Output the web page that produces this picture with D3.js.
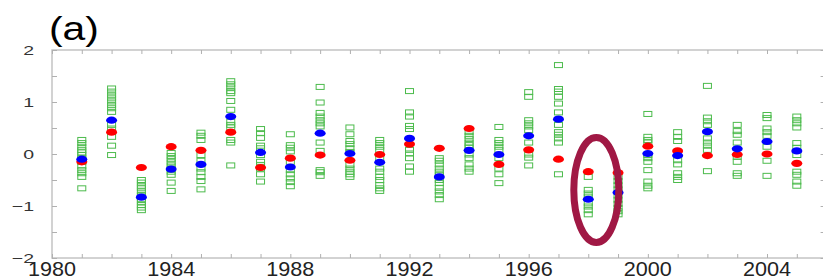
<!DOCTYPE html>
<html>
<head>
<meta charset="utf-8">
<script src="https://cdn.jsdelivr.net/npm/d3@7"></script>
<style>
  body { margin: 0; background: #fff; }
  svg { display: block; }
  text { font-family: "Liberation Sans", Arial, sans-serif; }
</style>
</head>
<body>
<div id="chart"></div>
<script>
// one column per year: ensemble members (green squares), red and blue estimates
const years = [1981, 1982, 1983, 1984, 1985, 1986, 1987, 1988, 1989, 1990, 1991, 1992, 1993,
    1994, 1995, 1996, 1997, 1998, 1999, 2000, 2001, 2002, 2003, 2004, 2005]

const red_vals = [-0.15, 0.42, -0.26, 0.14, 0.07, 0.42, -0.26, -0.08, -0.02, -0.12, -0.01, 0.19, 0.11,
    0.49, -0.20, 0.08, -0.10, -0.34, -0.36, 0.15, 0.06, -0.03, -0.01, 0.00, -0.18]

const blue_vals = [-0.10, 0.65, -0.83, -0.29, -0.20, 0.72, 0.03, -0.25, 0.40, 0.01, -0.16, 0.30, -0.44,
    0.07, -0.01, 0.35, 0.67, -0.87, -0.74, 0.01, -0.03, 0.43, 0.10, 0.24, 0.06]

const members = [
    [0.27, 0.21, 0.14, 0.08, 0.03, -0.02, -0.08, -0.15, -0.24, -0.31, -0.37, -0.44, -0.66],
    [1.26, 1.20, 1.13, 1.07, 1.01, 0.94, 0.88, 0.81, 0.56, 0.49, 0.33, 0.16, -0.02],
    [-0.50, -0.55, -0.61, -0.66, -0.72, -0.79, -0.87, -0.92, -0.98, -1.03, -1.08],
    [0.02, -0.04, -0.10, -0.16, -0.22, -0.28, -0.34, -0.40, -0.55, -0.71],
    [0.41, 0.35, 0.27, -0.02, -0.13, -0.28, -0.35, -0.44, -0.52, -0.68],
    [1.40, 1.34, 1.28, 1.21, 1.17, 1.02, 0.85, 0.62, 0.56, 0.51, 0.27, 0.22, -0.22],
    [0.48, 0.40, 0.31, 0.16, 0.11, -0.02, -0.15, -0.21, -0.28, -0.39, -0.53],
    [0.38, 0.17, 0.12, 0.05, -0.15, -0.31, -0.39, -0.47, -0.54, -0.62],
    [1.29, 0.99, 0.79, 0.72, 0.65, 0.59, 0.53, 0.22, 0.06, -0.31, -0.35, -0.42],
    [0.51, 0.38, 0.25, 0.19, 0.11, 0.04, -0.21, -0.28, -0.34, -0.39, -0.44],
    [0.27, 0.21, 0.14, 0.08, -0.08, -0.28, -0.34, -0.44, -0.50, -0.60, -0.66, -0.71],
    [1.21, 0.80, 0.72, 0.54, 0.48, 0.08, 0.01, -0.08, -0.24, -0.34],
    [-0.08, -0.13, -0.20, -0.28, -0.34, -0.40, -0.50, -0.56, -0.65, -0.72, -0.79, -0.87],
    [0.42, 0.35, 0.29, 0.22, 0.17, 0.12, -0.01, -0.08, -0.20, -0.28, -0.34],
    [0.52, 0.27, 0.21, 0.14, 0.08, -0.08, -0.28, -0.39, -0.56],
    [1.19, 1.10, 0.65, 0.59, 0.53, 0.46, 0.22, -0.01, -0.07, -0.22],
    [1.71, 1.25, 1.20, 1.10, 0.97, 0.80, 0.56, 0.42, 0.37, 0.30, 0.22, -0.39],
    [-0.44, -0.69, -0.76, -0.82, -0.95, -1.01, -1.08, -1.16],
    [-0.44, -0.52, -0.60, -0.68, -0.80, -0.88, -0.96, -1.04, -1.10, -1.16],
    [0.77, 0.33, 0.27, 0.22, -0.02, -0.08, -0.15, -0.31, -0.53, -0.61, -0.66],
    [0.42, 0.33, 0.25, -0.12, -0.20, -0.37, -0.44, -0.50],
    [1.31, 0.70, 0.63, 0.56, 0.30, 0.22, 0.16, 0.08, -0.33],
    [0.56, 0.44, 0.37, 0.22, -0.05, -0.15, -0.37, -0.42],
    [0.75, 0.69, 0.49, 0.42, 0.35, 0.14, -0.13, -0.42],
    [0.72, 0.65, 0.59, 0.51, 0.21, 0.12, -0.02, -0.34, -0.40, -0.53, -0.61]
]

const x_ticks = [1980, 1981, 1982, 1983, 1984, 1985, 1986, 1987, 1988, 1989, 1990, 1991, 1992,
    1993, 1994, 1995, 1996, 1997, 1998, 1999, 2000, 2001, 2002, 2003, 2004, 2005, 2006]
const x_labels = [1980, 1984, 1988, 1992, 1996, 2000, 2004]
const y_ticks = [-2, -1.5, -1, -0.5, 0, 0.5, 1, 1.5, 2]
const y_labels = [-2, -1, 0, 1, 2]

// highlighted year (ellipse)
const highlight = { year: 1998.27, value: -0.69 }

const width = 823
const height = 280
const m = { left: 52, right: 826.6, top: 50, bottom: 258 }

const x = d3.scaleLinear().domain([1980, 2006]).range([m.left, m.right])
const y = d3.scaleLinear().domain([-2, 2]).range([m.bottom, m.top])

const svg = d3.select('#chart').append('svg')
    .attr('width', width)
    .attr('height', height)

const axis_color = '#c4c4c4'

// frame
svg.append('rect')
    .attr('x', m.left).attr('y', m.top)
    .attr('width', m.right - m.left).attr('height', m.bottom - m.top)
    .attr('fill', 'none')
    .attr('stroke', axis_color)
    .attr('stroke-width', 1.5)

const style_axis = g => {
    g.select('.domain').remove()
    g.selectAll('.tick line').attr('stroke', '#b0b0b0')
    g.selectAll('text').remove()
}

svg.append('g').attr('transform', `translate(0,${m.bottom})`)
    .call(d3.axisBottom(x).tickValues(x_ticks).tickSize(-4)).call(style_axis)
svg.append('g').attr('transform', `translate(0,${m.top})`)
    .call(d3.axisTop(x).tickValues(x_ticks).tickSize(-4)).call(style_axis)
svg.append('g').attr('transform', `translate(${m.left},0)`)
    .call(d3.axisLeft(y).tickValues(y_ticks).tickSize(-5)).call(style_axis)
svg.append('g').attr('transform', `translate(${m.right},0)`)
    .call(d3.axisRight(y).tickValues(y_ticks).tickSize(-6)).call(style_axis)

// tick labels (kept just inside the bottom edge)
svg.append('g').selectAll('text')
    .data(x_labels)
    .enter()
    .append('text')
    .attr('transform', d => `translate(${x(d)},275.5) scale(1.08,1)`)
    .attr('text-anchor', 'middle')
    .attr('font-size', 20)
    .attr('fill', '#222')
    .text(d => d)

svg.append('g').selectAll('text')
    .data(y_labels)
    .enter()
    .append('text')
    .attr('transform', d => `translate(34,${y(d) + 4.5}) scale(1.5,1)`)
    .attr('text-anchor', 'end')
    .attr('font-size', 13)
    .attr('fill', '#333')
    .text(d => d < 0 ? '\u2212' + Math.abs(d) : d)

svg.append('text')
    .attr('transform', 'translate(49,40) scale(1.2,1)')
    .attr('font-size', 34)
    .attr('fill', '#000')
    .text('(a)')

// ensemble members
const cols = years.map((yr, i) => ({ year: yr, vals: members[i] }))
const squares = svg.append('g')
cols.forEach(c => {
    squares.selectAll(null)
        .data(c.vals)
        .enter()
        .append('rect')
        .attr('x', x(c.year) - 4)
        .attr('y', d => y(d) - 2.5)
        .attr('width', 8)
        .attr('height', 5)
        .attr('fill', 'none')
        .attr('stroke', '#4cbb4c')
        .attr('stroke-width', 1)
})

svg.append('g').selectAll('ellipse')
    .data(years)
    .enter()
    .append('ellipse')
    .attr('cx', d => x(d))
    .attr('cy', (d, i) => y(red_vals[i]))
    .attr('rx', 5.5).attr('ry', 3.6)
    .attr('fill', '#ff0000')

svg.append('g').selectAll('ellipse')
    .data(years)
    .enter()
    .append('ellipse')
    .attr('cx', d => x(d))
    .attr('cy', (d, i) => y(blue_vals[i]))
    .attr('rx', 5.5).attr('ry', 3.6)
    .attr('fill', '#0000ff')

svg.append('ellipse')
    .attr('cx', x(highlight.year))
    .attr('cy', y(highlight.value))
    .attr('rx', 22.5)
    .attr('ry', 52.5)
    .attr('fill', 'none')
    .attr('stroke', '#a01844')
    .attr('stroke-width', 7)
</script>
</body>
</html>
